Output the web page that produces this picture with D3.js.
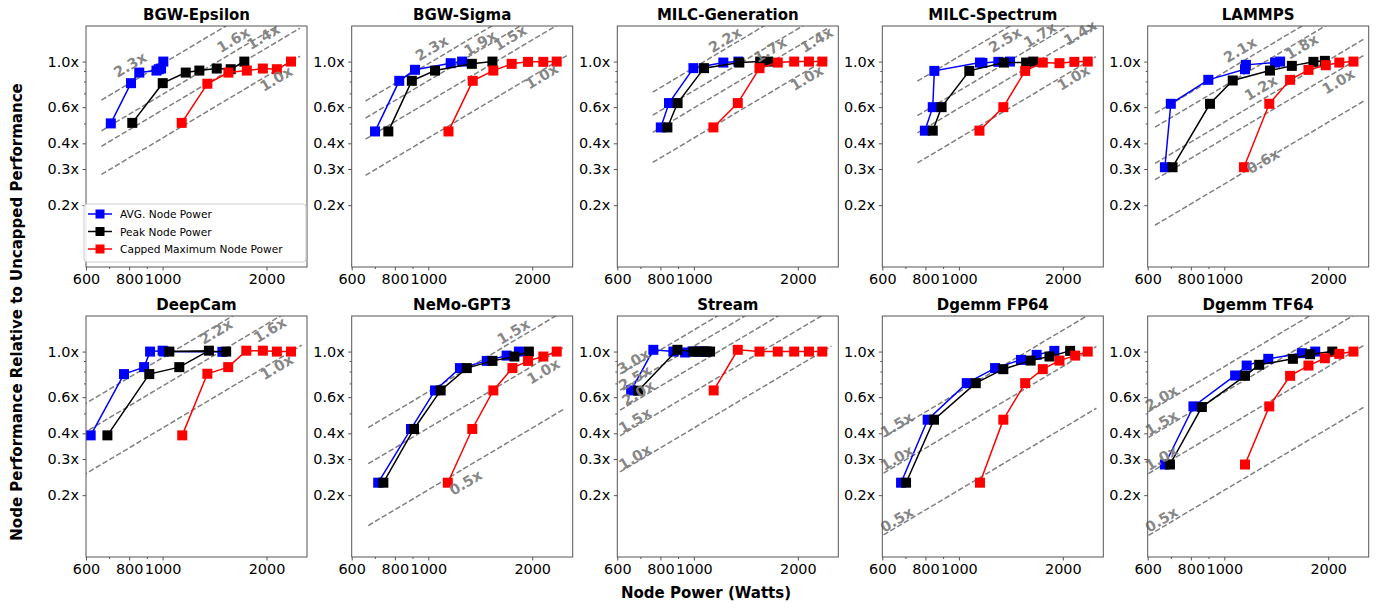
<!DOCTYPE html>
<html><head><meta charset="utf-8">
<script src="https://cdn.jsdelivr.net/npm/d3@7"></script>
<style>body{margin:0;background:#fff}svg{display:block}text{font-family:"DejaVu Sans",sans-serif}</style>
</head><body><svg id="chart" width="1379" height="608"></svg>
<script>
const titles = ["BGW-Epsilon","BGW-Sigma","MILC-Generation","MILC-Spectrum","LAMMPS","DeepCam","NeMo-GPT3","Stream","Dgemm FP64","Dgemm TF64"];
const seriesNames = ["AVG. Node Power","Peak Node Power","Capped Maximum Node Power"];

const avgPower = [
 [708,810,856,960,990,975,1005],
 [701,824,915,1161,1253],
 [802,847,997,1217,1345],
 [797,840,849,1151,1170,1301,1406],
 [673,700,899,1148,1155,1403,1451],
 [619,773,884,920,1000,1010,1490],
 [716,891,1046,1235,1477,1686,1830],
 [658,763,872,943,990,1040,1080],
 [680,812,1054,1273,1513,1680,1890],
 [673,814,1075,1161,1341,1677,1834]];
const avgPerf = [
 [0.5,0.785,0.884,0.904,0.925,0.918,1.0],
 [0.457,0.806,0.912,0.982,1.0],
 [0.478,0.628,0.929,0.989,1.0],
 [0.461,0.6,0.901,0.989,0.985,0.997,1.0],
 [0.306,0.623,0.815,0.918,0.964,0.989,1.0],
 [0.391,0.777,0.84,1.0,1.01,1.0,0.997],
 [0.23,0.42,0.647,0.831,0.901,0.956,1.0],
 [0.647,1.02,1.0,0.99,1.0,1.0,1.0],
 [0.23,0.466,0.702,0.831,0.911,0.964,1.008],
 [0.282,0.541,0.765,0.855,0.922,0.982,1.0]];

const peakPower = [
 [817,1001,1167,1278,1435,1575,1725],
 [766,896,1046,1337,1534],
 [838,897,1070,1354,1556,1642],
 [840,891,1072,1351,1566,1642],
 [708,909,1058,1356,1569,1812,1956],
 [692,915,1118,1362,1046,1528],
 [741,909,1086,1293,1534,1776,1956],
 [690,896,997,1030,1060,1090,1114],
 [703,847,1119,1345,1614,1830,2100],
 [696,861,1148,1262,1580,1772,2055]];
const peakPerf = [
 [0.503,0.785,0.884,0.904,0.925,0.918,1.0],
 [0.457,0.806,0.904,0.975,1.0],
 [0.478,0.628,0.929,0.989,1.0,1.0],
 [0.461,0.6,0.901,0.989,0.989,1.0],
 [0.306,0.623,0.809,0.904,0.953,0.997,1.008],
 [0.391,0.777,0.84,1.01,1.0,1.0],
 [0.23,0.42,0.647,0.831,0.901,0.946,1.0],
 [0.645,1.02,1.0,1.0,1.0,1.0,1.0],
 [0.23,0.466,0.702,0.821,0.904,0.946,1.008],
 [0.282,0.537,0.762,0.862,0.922,0.971,1.0]];

const capPower = [
 [1136,1348,1551,1754,1952,2143,2355],
 [1144,1345,1543,1744,1945,2154,2355],
 [1139,1340,1549,1750,1952,2154,2355],
 [1147,1345,1556,1750,1956,2160,2362],
 [1140,1350,1551,1753,1968,2154,2367],
 [1140,1348,1549,1748,1952,2143,2355],
 [1139,1341,1543,1753,1945,2154,2355],
 [1141,1340,1549,1750,1952,2154,2355],
 [1151,1345,1556,1750,1956,2172,2362],
 [1148,1350,1551,1753,1956,2154,2367]];
const capPerf = [
 [0.503,0.78,0.884,0.904,0.925,0.918,1.0],
 [0.457,0.806,0.904,0.975,0.997,0.997,1.0],
 [0.478,0.628,0.929,0.989,1.0,1.0,1.0],
 [0.461,0.6,0.901,0.989,0.982,0.997,1.0],
 [0.306,0.623,0.815,0.911,0.96,0.989,1.0],
 [0.391,0.78,0.84,1.01,1.01,1.0,1.0],
 [0.23,0.42,0.647,0.831,0.901,0.946,1.0],
 [0.647,1.02,1.0,1.0,1.0,1.0,1.0],
 [0.23,0.466,0.702,0.821,0.904,0.956,1.0],
 [0.282,0.541,0.762,0.855,0.928,0.975,1.0]];

// efficiency reference lines: perf = factor * power / uncapped power
const effFactors = [
 [2.3,1.63,1.37,1.0],[2.3,1.9,1.5,1.0],[2.2,1.7,1.4,1.0],[2.5,1.7,1.4,1.0],[2.1,1.8,1.2,1.0,0.6],
 [2.2,1.6,1.0],[1.5,1.0,0.5],[3.0,2.5,2.0,1.5,1.0],[1.5,1.0,0.5],[2.0,1.5,1.0,0.5]];
const effLabels = [
 ["2.3x","1.6x","1.4x","1.0x"],["2.3x","1.9x","1.5x","1.0x"],["2.2x","1.7x","1.4x","1.0x"],["2.5x","1.7x","1.4x","1.0x"],["2.1x","1.8x","1.2x","1.0x","0.6x"],
 ["2.2x","1.6x","1.0x"],["1.5x","1.0x","0.5x"],["3.0x","2.5x","2.0x","1.5x","1.0x"],["1.5x","1.0x","0.5x"],["2.0x","1.5x","1.0x","0.5x"]];
const effLineStart = [665,658,760,758,630,585,670,611,605,603];
const effLineEnd = [2500,2520,2430,2494,2530,2530,2465,2503,2503,2530];
// label anchors in data units (power, perf)
const effLabelPower = [
 [805,1603,1958,2133],[1024,1413,1726,2133],[1231,1663,2268,2124],[1361,1718,2244,2148],[1111,1677,1276,2142,1295],
 [1429,2046,2143],[1764,2154,1283],[668,675,690,675,675],[661,661,661],[658,658,658,658]];
const effLabelPerf = [
 [0.964,1.274,1.318,0.824],[1.161,1.228,1.303,0.846],[1.274,1.14,1.274,0.831],[1.274,1.348,1.378,0.834],[1.14,1.18,0.743,0.8,0.327],
 [1.25,1.274,0.84],[1.25,0.8,0.23],[0.894,0.743,0.628,0.462,0.306],[0.44,0.303,0.152],[0.594,0.449,0.303,0.152]];

const xTicks = [600,800,1000,2000];
const xTickLabels = ["600","800","1000","2000"];
const xMinorTicks = [700,900];
const yTicks = [0.2,0.3,0.4,0.6,1.0];
const yTickLabels = ["0.2x","0.3x","0.4x","0.6x","1.0x"];
const yMinorTicks = [0.5,0.7,0.8,0.9];

const colors = ["#0000ff","#000000","#ff0000"];
const svg = d3.select("#chart");
const pw = 221, ph = 241;
const lefts = [86,351.7,617.3,882.3,1147.7];
const tops = [26,316];
const x = d3.scaleLog().domain([600,2620]).range([0,pw]);
const y = d3.scaleLog().domain([0.1,1.49]).range([ph,0]);
const angle = -Math.atan((y(0.5)-y(1))/(x(2000)-x(1000)))*180/Math.PI;

titles.forEach((t,i)=>{
  const L = lefts[i%5], T = tops[Math.floor(i/5)];
  const g = svg.append("g").attr("transform",`translate(${L},${T})`);
  const clipId = "clip"+i;
  g.append("clipPath").attr("id",clipId).append("rect").attr("width",pw).attr("height",ph);
  const plot = g.append("g").attr("clip-path",`url(#${clipId})`);
  const ref = capPower[i][capPower[i].length-1];
  effFactors[i].forEach(f=>{
    const pts = [effLineStart[i], effLineEnd[i]];
    plot.append("line")
      .attr("x1",x(pts[0])).attr("y1",y(f*pts[0]/ref))
      .attr("x2",x(pts[1])).attr("y2",y(f*pts[1]/ref))
      .attr("stroke","#808080").attr("stroke-width",1.5).attr("stroke-dasharray","5.5,2.4");
  });
  const sets = [[avgPower[i],avgPerf[i]],[peakPower[i],peakPerf[i]],[capPower[i],capPerf[i]]];
  sets.forEach((s,k)=>{
    const pts = s[0].map((p,j)=>[p,s[1][j]]);
    const line = d3.line().x(d=>x(d[0])).y(d=>y(d[1]));
    plot.append("path").attr("d",line(pts)).attr("fill","none").attr("stroke",colors[k]).attr("stroke-width",1.5);
    plot.selectAll(null).data(pts).enter().append("rect")
      .attr("x",d=>x(d[0])-5).attr("y",d=>y(d[1])-5).attr("width",10).attr("height",10)
      .attr("fill",colors[k]);
  });
  effLabels[i].forEach((lab,j)=>{
    const cx = x(effLabelPower[i][j]), cy = y(effLabelPerf[i][j]);
    g.append("text").attr("transform",`translate(${cx},${cy}) rotate(${angle})`)
      .attr("text-anchor","middle").attr("dominant-baseline","central")
      .attr("font-size",14.5).attr("font-weight","bold").attr("fill","#808080").attr("fill-opacity",0.95)
      .text(lab);
  });
  g.append("rect").attr("width",pw).attr("height",ph).attr("fill","none").attr("stroke","#555").attr("stroke-width",1);
  const xa = g.append("g").attr("transform",`translate(0,${ph})`);
  xa.call(d3.axisBottom(x).tickValues(xTicks).tickFormat((d,j)=>xTickLabels[j]).tickSize(3.5).tickPadding(3));
  xa.append("g").call(d3.axisBottom(x).tickValues(xMinorTicks).tickFormat("").tickSize(2));
  const ya = g.append("g");
  ya.call(d3.axisLeft(y).tickValues(yTicks).tickFormat((d,j)=>yTickLabels[j]).tickSize(3.5).tickPadding(3.5));
  ya.append("g").call(d3.axisLeft(y).tickValues(yMinorTicks).tickFormat("").tickSize(2));
  g.selectAll(".domain").remove();
  g.selectAll(".tick line").attr("stroke","#555");
  g.selectAll(".tick text").attr("font-size",14.4).attr("fill","#000").attr("font-family","DejaVu Sans");
  g.append("text").attr("x",pw/2).attr("y",-6).attr("text-anchor","middle")
    .attr("font-size",15).attr("font-weight","bold").text(t);
});

const lg = svg.append("g").attr("transform","translate(84,204)");
lg.append("rect").attr("width",222).attr("height",58).attr("rx",3).attr("fill","#fff").attr("fill-opacity",0.85).attr("stroke","#ccc");
seriesNames.forEach((n,k)=>{
  const yy = 10 + k*17.5;
  lg.append("line").attr("x1",4).attr("x2",28).attr("y1",yy).attr("y2",yy).attr("stroke",colors[k]).attr("stroke-width",1.5);
  lg.append("rect").attr("x",11.5).attr("y",yy-4.5).attr("width",9).attr("height",9).attr("fill",colors[k]);
  lg.append("text").attr("x",36).attr("y",yy).attr("dominant-baseline","central").attr("font-size",10.6).text(n);
});

svg.append("text").attr("x",706).attr("y",598).attr("text-anchor","middle").attr("font-size",15).attr("font-weight","bold").text("Node Power (Watts)");
svg.append("text").attr("transform","translate(22,312) rotate(-90)").attr("text-anchor","middle").attr("font-size",15).attr("font-weight","bold").text("Node Performance Relative to Uncapped Performance");
</script></body></html>
